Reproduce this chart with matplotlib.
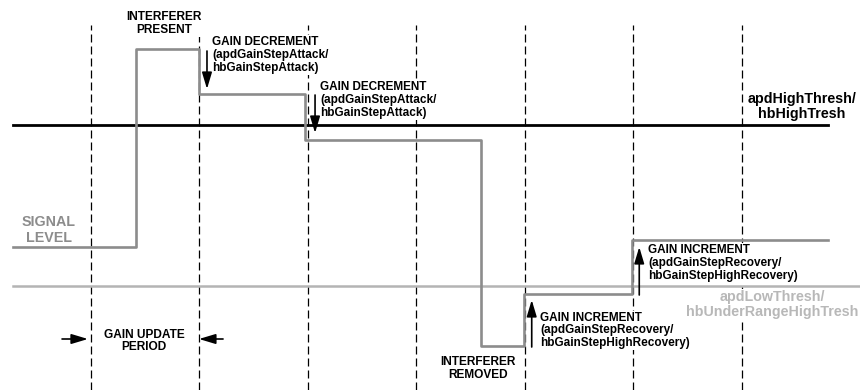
import numpy as np
import matplotlib.pyplot as plt

plt.rcParams['font.family'] = ['Liberation Sans', 'DejaVu Sans']

# x in gain update periods, y in arbitrary signal level units
periods = np.arange(0, 7)
sig_t = [-0.72, 0.415, 0.415, 1.0, 1.0, 1.97, 1.97, 3.59, 3.59, 3.99, 3.99, 4.99, 4.99, 6.79]
sig_lvl = [143, 143, 341, 341, 296, 296, 250, 250, 44, 44, 96, 96, 150, 150]
high_thresh = 265
low_thresh = 104

# arrows: (t, level from, level to)
gain_arrows = [(1.069, 339, 301), (2.065, 295, 257), (4.062, 43, 90), (5.053, 95, 143)]

# (t, level, text, align, colour, size)
labels = [
    (0.673, 366.5, 'INTERFERER\nPRESENT', 'center', 'black', 8.6),
    (1.115, 335, 'GAIN DECREMENT\n(apdGainStepAttack/\nhbGainStepAttack)', 'left', 'black', 8.5),
    (2.111, 290, 'GAIN DECREMENT\n(apdGainStepAttack/\nhbGainStepAttack)', 'left', 'black', 8.5),
    (6.553, 283.5, 'apdHighThresh/\nhbHighTresh', 'center', 'black', 10.3),
    (-0.387, 160, 'SIGNAL\nLEVEL', 'center', '#8c8c8c', 10.3),
    (0.488, 49, 'GAIN UPDATE\nPERIOD', 'center', 'black', 8.6),
    (3.567, 21.5, 'INTERFERER\nREMOVED', 'center', 'black', 8.6),
    (4.138, 59.5, 'GAIN INCREMENT\n(apdGainStepRecovery/\nhbGainStepHighRecovery)', 'left', 'black', 8.5),
    (5.134, 127, 'GAIN INCREMENT\n(apdGainStepRecovery/\nhbGainStepHighRecovery)', 'left', 'black', 8.5),
    (6.276, 85.5, 'apdLowThresh/\nhbUnderRangeHighTresh', 'center', '#b8b8b8', 10.3),
]

fig = plt.figure(figsize=(8.6, 3.9), dpi=100)
ax = fig.add_axes([0, 0, 1, 1])
ax.set_xlim(-0.8387, 7.0876)
ax.set_ylim(0, 390)
ax.axis('off')

for p in periods:
    ax.plot([p, p], [0, 365], color='black', lw=0.9, dashes=(6.4, 3.2), zorder=1)

ax.plot([-0.72, 7.09], [low_thresh, low_thresh], color='#b4b4b4', lw=1.8, zorder=2)
ax.plot([-0.72, 6.793], [high_thresh, high_thresh], color='black', lw=2.0, zorder=2)
ax.plot(sig_t, sig_lvl, color='#8c8c8c', lw=1.9, zorder=3)

for t, l, txt, ha, c, fs in labels:
    ax.text(t, l, txt, ha=ha, va='center', multialignment=ha, color=c,
            fontsize=fs, fontweight='bold', linespacing=1.1, zorder=4,
            bbox=dict(facecolor='white', edgecolor='none', pad=0.5))

arrow_style = dict(arrowstyle='-|>,head_length=1.0,head_width=0.3',
                   color='black', lw=1.2, shrinkA=0, shrinkB=0, mutation_scale=10)

for t, l0, l1 in gain_arrows:
    ax.annotate('', xy=(t, l1), xytext=(t, l0), arrowprops=arrow_style, zorder=5)

# gain update period arrows
ax.annotate('', xy=(-0.028, 51), xytext=(-0.267, 51), arrowprops=arrow_style, zorder=5)
ax.annotate('', xy=(0.995, 51), xytext=(1.217, 51), arrowprops=arrow_style, zorder=5)

fig.savefig('out.png', dpi=100)
